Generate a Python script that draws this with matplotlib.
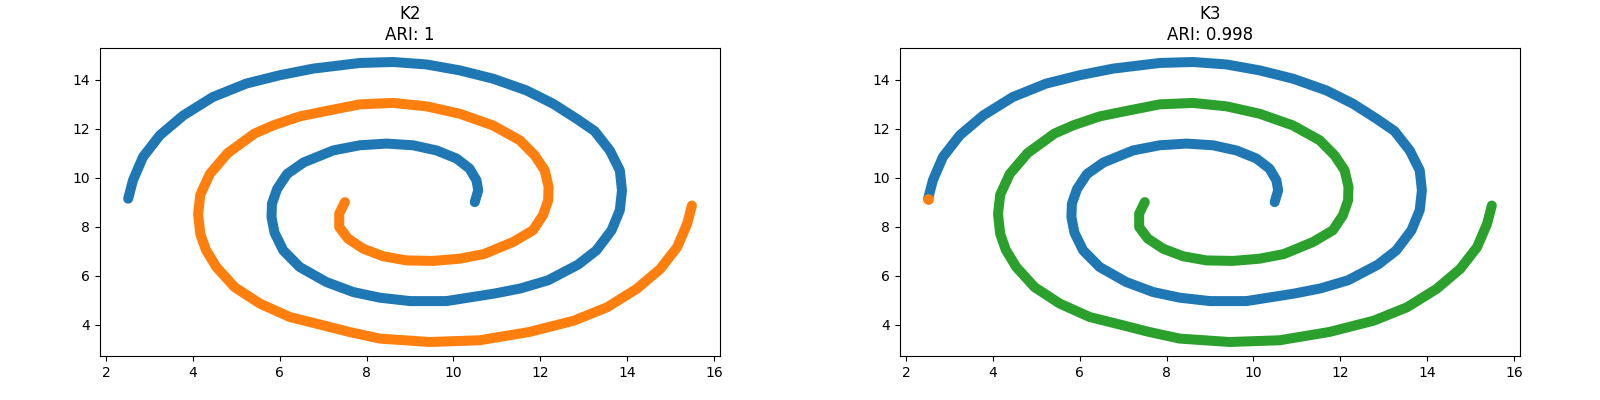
import matplotlib.pyplot as plt

# points read along each spiral (from one end to the other)
spiral_a_x = [2.51, 2.62, 2.85, 3.24, 3.78, 4.46, 5.23, 6.00, 6.77, 7.84, 8.61, 9.38,
              10.14, 10.91, 11.68, 12.29, 12.83, 13.25, 13.60, 13.83, 13.88, 13.83, 13.64,
              13.29, 12.87, 12.18, 11.55, 10.95, 9.84, 9.00, 8.30, 7.69, 7.07, 6.46,
              6.08, 5.88, 5.81, 5.82, 5.94, 6.17, 6.55, 7.23, 7.84, 8.46, 9.07, 9.61,
              10.07, 10.37, 10.53, 10.57, 10.49]
spiral_a_y = [9.14, 9.89, 10.84, 11.73, 12.54, 13.29, 13.84, 14.18, 14.45, 14.68, 14.72, 14.62,
              14.38, 14.04, 13.56, 13.02, 12.41, 11.90, 11.11, 10.30, 9.48, 8.67, 7.85,
              7.03, 6.45, 5.81, 5.48, 5.27, 4.96, 4.96, 5.10, 5.33, 5.74, 6.35,
              7.03, 7.75, 8.38, 8.93, 9.54, 10.15, 10.62, 11.11, 11.32, 11.39, 11.32, 11.11,
              10.78, 10.37, 9.89, 9.48, 9.00]

spiral_b_x = [7.50, 7.37, 7.37, 7.57, 7.92, 8.38, 8.92, 9.53, 10.14, 10.70, 11.37, 11.83,
              12.06, 12.18, 12.19, 12.10, 11.87, 11.53, 10.91, 10.14, 9.38, 8.61, 7.84,
              7.07, 6.46, 5.86, 5.42, 4.80, 4.39, 4.17, 4.12, 4.17, 4.30, 4.54, 4.96,
              5.54, 6.23, 7.00, 7.60, 8.30, 9.45, 10.60, 11.75, 12.77, 13.54, 14.22,
              14.76, 15.15, 15.38, 15.49]
spiral_b_y = [9.00, 8.53, 7.98, 7.51, 7.10, 6.79, 6.62, 6.60, 6.69, 6.88, 7.37, 7.85,
              8.46, 9.07, 9.62, 10.30, 10.91, 11.52, 12.13, 12.61, 12.91, 13.05, 12.99,
              12.72, 12.50, 12.14, 11.80, 11.00, 10.15, 9.30, 8.52, 7.70, 7.05, 6.35, 5.53,
              4.86, 4.31, 3.97, 3.70, 3.43, 3.29, 3.36, 3.70, 4.16, 4.71, 5.46,
              6.27, 7.16, 8.11, 8.86]

# cluster colours per panel
titles = ["K2\nARI: 1", "K3\nARI: 0.998"]
colors_a = ["C0", "C0"]
colors_b = ["C1", "C2"]
odd_x = [[], [2.51]]   # single point put in its own cluster
odd_y = [[], [9.14]]

fig, axs = plt.subplots(1, 2, figsize=(16, 4), dpi=100)
plt.subplots_adjust(left=0.0625, right=0.95, bottom=0.11, top=0.88, wspace=0.29)

for i, ax in enumerate(axs):
    ax.plot(spiral_a_x, spiral_a_y, color=colors_a[i], lw=7.2,
            solid_capstyle="round", solid_joinstyle="round")
    ax.plot(spiral_b_x, spiral_b_y, color=colors_b[i], lw=7.2,
            solid_capstyle="round", solid_joinstyle="round")
    if odd_x[i]:
        ax.scatter(odd_x[i], odd_y[i], color="C1", s=45, zorder=3)
    ax.set_title(titles[i])

plt.savefig("out.png")
